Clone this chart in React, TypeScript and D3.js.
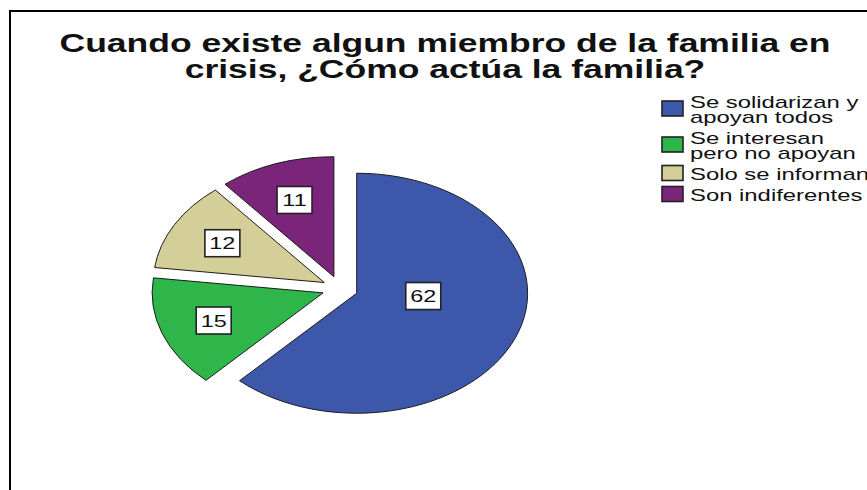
import React from "react";
import * as d3 from "d3";

const titleLines = [
  "Cuando existe algun miembro de la familia en",
  "crisis, ¿Cómo actúa la familia?",
];
const categories = [
  ["Se solidarizan y", "apoyan todos"],
  ["Se interesan", "pero no apoyan"],
  ["Solo se informan"],
  ["Son indiferentes"],
];
const values = [62, 15, 12, 11];
const colors = ["#3D58AB", "#2EB64B", "#D4CE98", "#7A2579"];

const W = 867;
const H = 490;
const SX = 1.42; // horizontal stretch of the original picture
const cx = 340;
const cy = 288.6;
const rx = 171;
const ry = 120;
const explode = 0.105;
const FONT = "'Liberation Sans', Arial, Helvetica, sans-serif";

function StretchText({ x, y, size, weight, anchor, children }: any) {
  return (
    <g transform={`translate(${x},${y}) scale(${SX},1)`}>
      <text
        x={0}
        y={0}
        fontFamily={FONT}
        fontSize={size}
        fontWeight={weight || "normal"}
        textAnchor={anchor || "start"}
        fill="#111"
      >
        {children}
      </text>
    </g>
  );
}

export default function App() {
  const pie = d3
    .pie<number>()
    .sort(null)
    .value((d) => d)
    .startAngle(0)
    .endAngle(2 * Math.PI);
  const arcs = pie(values);
  const arcGen = d3.arc<d3.PieArcDatum<number>>().innerRadius(0).outerRadius(1);

  // legend layout
  const legX = 662;
  const legTextX = 690;
  const lineH = 15;
  const gap = 6;
  let base = 107.5;
  const legendItems = categories.map((lines, i) => {
    const first = base;
    const last = base + (lines.length - 1) * lineH;
    const center = (first - 13 + last) / 2;
    base = last + lineH + gap;
    return { lines, first, center, color: colors[i] };
  });

  return (
    <svg
      width={W}
      height={H}
      style={{ position: "absolute", left: 0, top: 0, background: "#fff" }}
    >
      <rect x={0} y={0} width={W} height={H} fill="#fff" />
      <rect x={10} y={11} width={W + 50} height={H + 50} fill="none" stroke="#000" strokeWidth={2} />

      {titleLines.map((t, i) => (
        <StretchText key={i} x={445} y={51.5 + i * 26.5} size={25} weight="bold" anchor="middle">
          {t}
        </StretchText>
      ))}

      <g>
        {arcs.map((a, i) => {
          const mid = (a.startAngle + a.endAngle) / 2;
          const ex = explode * Math.sin(mid);
          const ey = -explode * Math.cos(mid);
          return (
            <g key={i} transform={`translate(${cx},${cy}) scale(${rx},${ry}) translate(${ex},${ey})`}>
              <path
                d={arcGen(a) || ""}
                fill={colors[i]}
                stroke="#1b1b1b"
                strokeWidth={1}
                vectorEffect="non-scaling-stroke"
                strokeLinejoin="round"
              />
            </g>
          );
        })}
      </g>

      {arcs.map((a, i) => {
        const mid = (a.startAngle + a.endAngle) / 2;
        const large = a.endAngle - a.startAngle > Math.PI;
        const ang = large ? Math.min(mid, Math.PI / 2 + 0.06) : mid;
        const r = large ? 0.39 : 0.68;
        const ex = explode * Math.sin(mid);
        const ey = -explode * Math.cos(mid);
        const px = cx + rx * (ex + r * Math.sin(ang));
        const py = cy + ry * (ey - r * Math.cos(ang));
        const bw = 35;
        const bh = 27;
        return (
          <g key={i}>
            <rect
              x={px - bw / 2}
              y={py - bh / 2}
              width={bw}
              height={bh}
              fill="#fff"
              stroke="#222"
              strokeWidth={1.6}
            />
            <StretchText x={px} y={py + 6} size={16.5} anchor="middle">
              {String(values[i])}
            </StretchText>
          </g>
        );
      })}

      {legendItems.map((it, i) => (
        <g key={i}>
          <rect
            x={legX}
            y={it.center - 7.5}
            width={21}
            height={15}
            fill={it.color}
            stroke="#222"
            strokeWidth={1.6}
          />
          {it.lines.map((l, j) => (
            <StretchText key={j} x={legTextX} y={it.first + j * lineH} size={16.8}>
              {l}
            </StretchText>
          ))}
        </g>
      ))}
    </svg>
  );
}
